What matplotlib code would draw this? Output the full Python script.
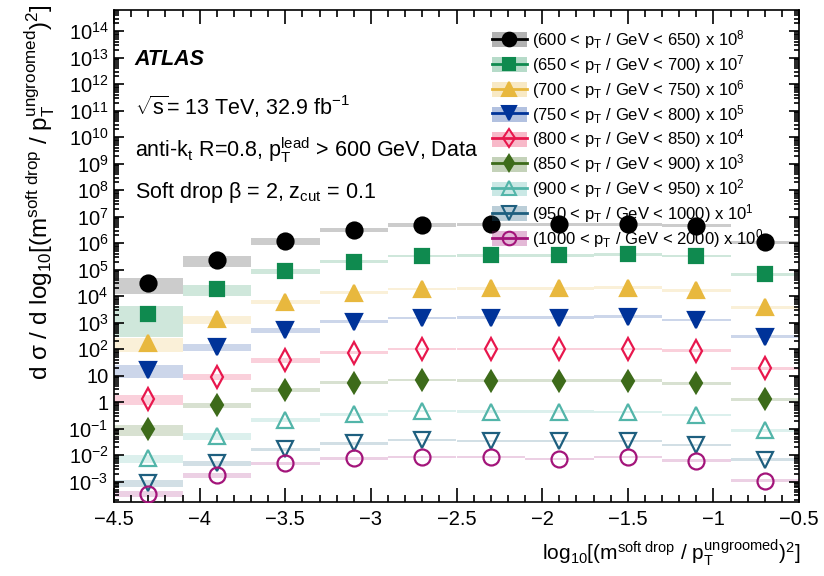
import matplotlib
matplotlib.use("Agg")
import matplotlib.pyplot as plt
import numpy as np
from matplotlib.lines import Line2D
from matplotlib.patches import Patch
from matplotlib.ticker import FixedLocator, FuncFormatter, LogLocator, MultipleLocator

plt.rcParams["font.family"] = ["Liberation Sans", "DejaVu Sans"]
plt.rcParams["mathtext.fontset"] = "custom"
plt.rcParams["mathtext.rm"] = "Liberation Sans"
plt.rcParams["mathtext.it"] = "Liberation Sans:italic"
plt.rcParams["mathtext.bf"] = "Liberation Sans:bold"
plt.rcParams["mathtext.default"] = "regular"

# bin edges in log10[(m_sd / pT)^2]
bin_edges = [-4.5, -4.1, -3.7, -3.3, -2.9, -2.5, -2.1, -1.7, -1.3, -0.9, -0.5]

pt_low = [600, 650, 700, 750, 800, 850, 900, 950, 1000]
pt_high = [650, 700, 750, 800, 850, 900, 950, 1000, 2000]
scale_pow = [8, 7, 6, 5, 4, 3, 2, 1, 0]

# plotted (already scaled) cross sections
xs_600 = [3.1e4, 2.3e5, 1.2e6, 3.2e6, 4.9e6, 5.2e6, 5.2e6, 5.2e6, 4.6e6, 1.07e6]
xs_650 = [2.2e3, 1.8e4, 8.9e4, 2.0e5, 3.3e5, 3.5e5, 3.5e5, 3.8e5, 3.3e5, 6.8e4]
xs_700 = [166, 1.35e3, 6.2e3, 1.35e4, 1.86e4, 2.0e4, 2.0e4, 2.1e4, 1.7e4, 3.8e3]
xs_750 = [16.2, 123, 525, 1.1e3, 1.48e3, 1.55e3, 1.55e3, 1.7e3, 1.26e3, 295]
xs_800 = [1.32, 9.1, 39, 74, 100, 100, 100, 100, 87, 19]
xs_850 = [0.095, 0.76, 2.9, 5.5, 6.9, 6.5, 6.5, 6.5, 5.1, 1.29]
xs_900 = [7.6e-3, 0.052, 0.21, 0.35, 0.47, 0.44, 0.44, 0.42, 0.33, 0.089]
xs_950 = [8.7e-4, 4.9e-3, 0.0166, 0.028, 0.037, 0.035, 0.035, 0.035, 0.024, 6.6e-3]
xs_1000 = [3.5e-4, 1.8e-3, 4.9e-3, 7.6e-3, 8.7e-3, 8.3e-3, 7.2e-3, 8.3e-3, 6.2e-3, 1.07e-3]

# relative total uncertainty
err_600 = [0.60, 0.43, 0.26, 0.16, 0.15, 0.13, 0.13, 0.13, 0.13, 0.16]
err_650 = [0.87, 0.44, 0.22, 0.13, 0.12, 0.11, 0.11, 0.11, 0.12, 0.13]
err_700 = [0.54, 0.32, 0.20, 0.13, 0.12, 0.11, 0.11, 0.11, 0.12, 0.13]
err_750 = [0.50, 0.28, 0.22, 0.12, 0.11, 0.11, 0.11, 0.11, 0.12, 0.13]
err_800 = [0.43, 0.26, 0.22, 0.12, 0.11, 0.11, 0.11, 0.11, 0.12, 0.13]
err_850 = [0.44, 0.24, 0.17, 0.11, 0.10, 0.10, 0.10, 0.10, 0.11, 0.13]
err_900 = [0.35, 0.26, 0.18, 0.11, 0.10, 0.10, 0.10, 0.10, 0.11, 0.13]
err_950 = [0.31, 0.22, 0.16, 0.11, 0.10, 0.10, 0.10, 0.10, 0.11, 0.13]
err_1000 = [0.24, 0.22, 0.17, 0.11, 0.10, 0.10, 0.10, 0.10, 0.11, 0.13]

values = [xs_600, xs_650, xs_700, xs_750, xs_800, xs_850, xs_900, xs_950, xs_1000]
errors = [err_600, err_650, err_700, err_750, err_800, err_850, err_900, err_950, err_1000]

colors = ["#000000", "#0f8a4f", "#e8b83e", "#003399", "#e8174d",
          "#3d6b1a", "#52b5a9", "#1e5f7f", "#a3147a"]
markers = ["o", "s", "^", "v", "d", "d", "^", "v", "o"]
filled = [True, True, True, True, False, True, False, False, False]
sizes = [11.5, 10.5, 11.5, 11.5, 11, 10, 11.5, 11.5, 11.5]

fig = plt.figure(figsize=(8.24, 5.76), dpi=100)
ax = fig.add_axes([114 / 824, 1 - 502 / 576, 685 / 824, 492 / 576])

edges = np.array(bin_edges)
centers = 0.5 * (edges[:-1] + edges[1:])
widths = np.diff(edges)

handles, labels = [], []
for i in range(len(values)):
    v = np.array(values[i])
    e = np.array(errors[i])
    lo, hi = v * (1 - e), v * (1 + e)
    ax.bar(centers, hi - lo, width=widths, bottom=lo, color=colors[i],
           alpha=0.2, linewidth=0, zorder=1)
    mfc = colors[i] if filled[i] else "none"
    ax.plot(centers, v, linestyle="none", marker=markers[i], ms=sizes[i],
            mfc=mfc, mec=colors[i], mew=1.6, zorder=3)
    band = Patch(facecolor=colors[i], alpha=0.3, linewidth=0)
    mark = Line2D([0], [0], color=colors[i], lw=2, marker=markers[i],
                  ms=sizes[i] * 0.85, mfc=mfc, mec=colors[i], mew=1.5)
    handles.append((band, mark))
    labels.append(f"({pt_low[i]} < p$_{{T}}$ / GeV < {pt_high[i]}) x 10$^{{{scale_pow[i]}}}$")

ax.set_xlim(-4.5, -0.5)
ax.set_yscale("log")
ax.set_ylim(1.7e-4, 6.3e14)

ax.xaxis.set_major_locator(MultipleLocator(0.5))
ax.xaxis.set_minor_locator(MultipleLocator(0.1))
ax.xaxis.set_major_formatter(FuncFormatter(lambda val, pos: f"{val:g}".replace("-", "\u2212")))
decades = [10.0 ** k for k in range(-3, 15)]
ax.yaxis.set_major_locator(FixedLocator(decades))
ax.yaxis.set_minor_locator(LogLocator(base=10, subs=np.arange(2, 10), numticks=100))


def ylab(val, pos):
    k = int(round(np.log10(val)))
    if k == 0:
        return "1"
    if k == 1:
        return "10"
    return f"10$^{{{k}}}$"


ax.yaxis.set_major_formatter(FuncFormatter(ylab))
ax.tick_params(axis="both", which="both", direction="in", top=True, right=True,
               labelsize=14.5, width=1.2)
ax.tick_params(axis="x", which="major", length=10, pad=6)
ax.tick_params(axis="x", which="minor", length=5)
ax.tick_params(axis="y", which="major", length=7, pad=4)
ax.tick_params(axis="y", which="minor", length=3.5)
for s in ax.spines.values():
    s.set_linewidth(1.2)

ax.text(0.03, 0.9, "ATLAS", transform=ax.transAxes, fontsize=15.5,
        fontweight="bold", style="italic", va="center")
ax.text(0.03, 0.804, r"$\sqrt{s}$= 13 TeV, 32.9 fb$^{-1}$", transform=ax.transAxes,
        fontsize=15.5, va="center")
ax.text(0.03, 0.716, r"anti-k$_{t}$ R=0.8, p$_{T}^{lead}$ > 600 GeV, Data",
        transform=ax.transAxes, fontsize=15.5, va="center")
ax.text(0.03, 0.63, r"Soft drop $\beta$ = 2, z$_{cut}$ = 0.1",
        transform=ax.transAxes, fontsize=15.5, va="center")

ax.legend(handles, labels, loc="upper left", bbox_to_anchor=(492 / 824, 1 - 28 / 576),
          bbox_transform=fig.transFigure, frameon=False, fontsize=12,
          handlelength=2.1, handleheight=1.0, handletextpad=0.3,
          labelspacing=0.12, borderpad=0, borderaxespad=0)

fig.text(40 / 824, 1 - 4 / 576,
         r"d $\sigma$ / d log$_{10}$[(m$^{soft\ drop}$ / p$_{T}^{ungroomed}$)$^{2}$]",
         rotation=90, ha="center", va="top", fontsize=17.5)
fig.text(800 / 824, 1 - 553 / 576,
         r"log$_{10}$[(m$^{soft\ drop}$ / p$_{T}^{ungroomed}$)$^{2}$]",
         ha="right", va="center", fontsize=15)

fig.savefig("out.png", dpi=100)
